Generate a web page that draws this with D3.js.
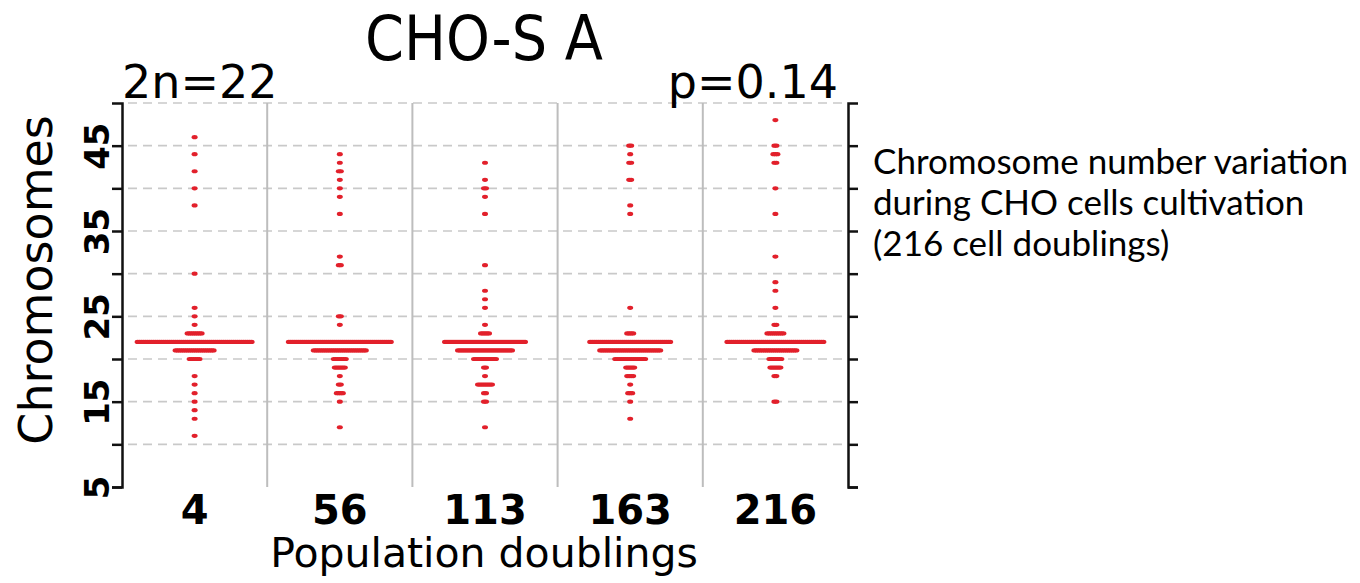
<!DOCTYPE html>
<html>
<head>
<meta charset="utf-8">
<script src="https://cdn.jsdelivr.net/npm/d3@7.9.0/dist/d3.min.js"></script>
<style>
  body { margin: 0; background: #fff; }
  svg { display: block; }
</style>
</head>
<body>
<svg id="chart" width="1360" height="583"></svg>
<script>
// population doublings (x categories)
const doublings = ['4', '56', '113', '163', '216'];

// [chromosome number, number of cells] for each sample
const pd4   = [[46,1],[44,1],[42,1],[40,1],[38,1],[30,1],[26,1],[25,1],[24,1],[23,8],[22,58],[21,20],[20,6],[18,1],[17,1],[16,1],[15,1],[14,1],[13,1],[11,1]];
const pd56  = [[44,1],[43,1],[42,2],[41,1],[40,1],[39,1],[37,1],[32,1],[31,2],[25,2],[24,1],[22,52],[21,27],[20,7],[19,6],[18,1],[17,2],[16,4],[15,1],[12,1]];
const pd113 = [[43,1],[41,1],[40,2],[39,1],[37,1],[31,1],[28,1],[27,1],[26,1],[24,1],[23,5],[22,41],[21,28],[20,12],[19,2],[18,1],[17,8],[16,2],[15,2],[12,1]];
const pd163 = [[45,2],[44,1],[43,2],[41,2],[38,1],[37,1],[26,1],[23,4],[22,41],[21,31],[20,16],[19,5],[18,4],[17,1],[16,3],[15,1],[13,1]];
const pd216 = [[48,1],[45,2],[44,3],[43,2],[40,1],[37,1],[32,1],[29,1],[28,1],[26,1],[24,2],[23,9],[22,49],[21,22],[20,7],[19,6],[18,2],[15,2]];
const samples = [pd4, pd56, pd113, pd163, pd216];

const yTicks = [5, 10, 15, 20, 25, 30, 35, 40, 45];
const yLabels = [5, 15, 25, 35, 45];
const gridValues = [10, 15, 20, 25, 30, 35, 40, 45, 50];
const notes = ['Chromosome number variation', 'during CHO cells cultivation', '(216 cell doublings)'];

const svg = d3.select('#chart');
const x = d3.scaleBand().domain(doublings).range([122, 848]);
const y = d3.scaleLinear().domain([5, 50]).range([487, 103]);
const [x0, x1] = x.range();

// dashed grid
svg.append('g')
  .selectAll('line')
  .data(gridValues)
  .join('line')
  .attr('x1', x0 + 6).attr('x2', x1 - 4)
  .attr('y1', d => y(d)).attr('y2', d => y(d))
  .attr('stroke', '#c9c9c9')
  .attr('stroke-width', 1.6)
  .attr('stroke-dasharray', '9,6');

// separators between samples
svg.append('g')
  .selectAll('line')
  .data(doublings.slice(1))
  .join('line')
  .attr('x1', d => x(d)).attr('x2', d => x(d))
  .attr('y1', y(50)).attr('y2', y(5))
  .attr('stroke', '#bdbdbd')
  .attr('stroke-width', 2);

// one dot per cell, rows centred in each band
const dotStep = 2;
const dots = [];
samples.forEach((rows, k) => {
  const cx = x(doublings[k]) + x.bandwidth() / 2;
  rows.forEach(([chr, n]) => {
    for (let i = 0; i < n; i++) {
      dots.push({ x: cx + (i - (n - 1) / 2) * dotStep, chr });
    }
  });
});
svg.append('g')
  .selectAll('ellipse')
  .data(dots)
  .join('ellipse')
  .attr('cx', d => d.x)
  .attr('cy', d => y(d.chr))
  .attr('rx', 3)
  .attr('ry', 2.1)
  .attr('fill', '#e2202b');

// left axis
const left = svg.append('g')
  .attr('transform', `translate(${x0},0)`)
  .call(d3.axisLeft(y).tickValues(yTicks).tickSize(10).tickSizeOuter(10)
    .tickFormat(d => yLabels.includes(d) ? d : ''));
left.selectAll('text')
  .attr('x', 0).attr('y', -13).attr('dy', 0)
  .attr('text-anchor', 'middle')
  .attr('transform', 'rotate(-90)')
  .style('font', 'bold 34px "DejaVu Sans"')
  .attr('fill', '#000');

// right axis
svg.append('g')
  .attr('transform', `translate(${x1},0)`)
  .call(d3.axisRight(y).tickValues(yTicks).tickSize(10).tickSizeOuter(10).tickFormat(''));

svg.selectAll('.domain, .tick line')
  .attr('stroke', '#111')
  .attr('stroke-width', 2.5);

// bottom labels
const bottom = svg.append('g')
  .attr('transform', `translate(0,${y(5)})`)
  .call(d3.axisBottom(x).tickSize(0).tickPadding(9));
bottom.select('.domain').remove();
bottom.selectAll('text')
  .style('font', 'bold 40px "DejaVu Sans"')
  .attr('fill', '#000');

// titles
svg.append('text')
  .attr('x', 484).attr('y', 60)
  .attr('text-anchor', 'middle')
  .style('font', '62px "DejaVu Sans Condensed", "DejaVu Sans"')
  .style('font-stretch', 'condensed')
  .text('CHO-S A');

svg.append('text')
  .attr('x', 122).attr('y', 98)
  .style('font', '46px "DejaVu Sans"')
  .text('2n=22');

svg.append('text')
  .attr('x', 838).attr('y', 98)
  .attr('text-anchor', 'end')
  .style('font', '46px "DejaVu Sans"')
  .text('p=0.14');

svg.append('text')
  .attr('transform', 'translate(52,280) rotate(-90)')
  .attr('text-anchor', 'middle')
  .style('font', '46px "DejaVu Sans"')
  .text('Chromosomes');

svg.append('text')
  .attr('x', 484).attr('y', 567)
  .attr('text-anchor', 'middle')
  .style('font', '41px "DejaVu Sans"')
  .text('Population doublings');

// side note
svg.append('g')
  .selectAll('text')
  .data(notes)
  .join('text')
  .attr('x', 873)
  .attr('y', (d, i) => 174 + i * 41)
  .style('font', '35px Lato, "Open Sans", sans-serif')
  .attr('fill', '#000')
  .text(d => d);
</script>
</body>
</html>
